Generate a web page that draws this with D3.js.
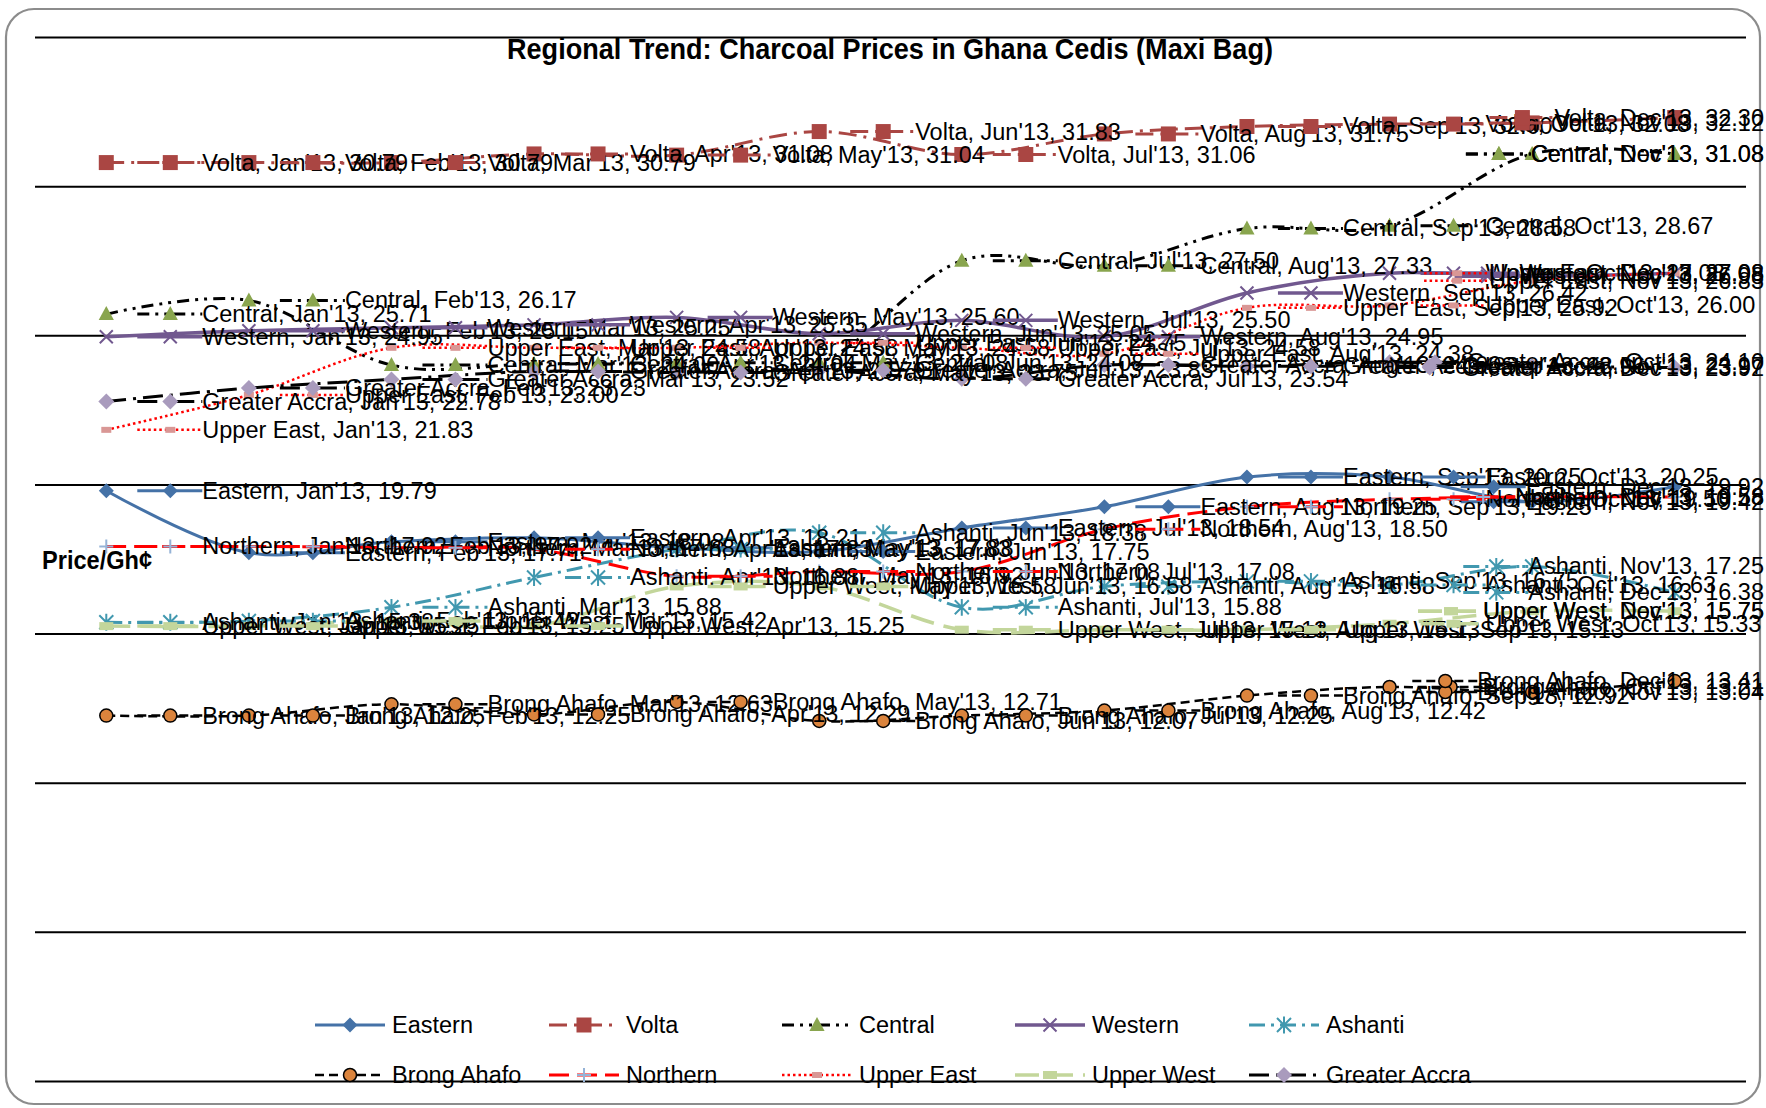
<!DOCTYPE html>
<html>
<head>
<meta charset="utf-8">
<script src="https://cdn.jsdelivr.net/npm/d3@7"></script>
<style>
  body { margin: 0; background: #fff; }
  text { font-family: "Liberation Sans Narrow", "Arial Narrow", "Liberation Sans", sans-serif; }
</style>
</head>
<body>
<svg id="chart" width="1766" height="1108"></svg>
<script>
// ---- data ----
var months = ["Jan'13","Feb'13","Mar'13","Apr'13","May'13","Jun'13","Jul'13","Aug'13","Sep'13","Oct'13","Nov'13","Dec'13"];
var eastern      = [19.79,17.71,18.08,18.21,17.88,17.75,18.54,19.25,20.25,20.25,19.42,19.92];
var volta        = [30.79,30.79,30.79,31.08,31.04,31.83,31.06,31.75,32.00,32.08,32.12,32.30];
var central      = [25.71,26.17,24.00,24.04,24.08,24.08,27.50,27.33,28.58,28.67,31.08,31.08];
var western      = [24.95,25.15,25.25,25.35,25.60,25.05,25.50,24.95,26.42,27.08,26.98,27.08];
var ashanti      = [15.38,15.42,15.88,16.88,17.83,18.38,15.88,16.58,16.75,16.63,17.25,16.38];
var brongAhafo   = [12.25,12.25,12.63,12.29,12.71,12.07,12.25,12.42,12.92,13.21,13.04,13.41];
var northern     = [17.92,17.92,17.88,17.83,16.92,17.08,17.08,18.50,19.25,19.50,19.58,19.58];
var upperEast    = [21.83,23.00,24.58,24.58,24.58,24.75,24.58,24.38,25.92,26.00,26.83,27.08];
var upperWest    = [15.25,15.25,15.42,15.25,16.58,16.58,15.13,15.13,15.13,15.33,15.75,15.75];
var greaterAccra = [22.78,23.23,23.52,23.79,23.75,23.83,23.54,24.00,23.96,24.10,23.97,23.92];
var yTicks = [0,5,10,15,20,25,30,35];

var series = [
  {name:"Eastern",      values:eastern,      line:"#4572A7", width:3,   dash:null,            mk:{shape:"diamond", fill:"#4572A7", r:7.5}},
  {name:"Volta",        values:volta,        line:"#AA4643", width:3,   dash:"18,7,3,7",      mk:{shape:"square", fill:"#AA4643", r:7.5}},
  {name:"Central",      values:central,      line:"#000000", width:3,   dash:"12,6,3,6,3,6",  mk:{shape:"triangle", fill:"#89A54E", r:8}},
  {name:"Western",      values:western,      line:"#71588F", width:3.5, dash:null,            mk:{shape:"times", stroke:"#71588F", r:6.5}},
  {name:"Ashanti",      values:ashanti,      line:"#4198AF", width:3,   dash:"16,6,3,6",      mk:{shape:"asterisk", stroke:"#4198AF", r:7}},
  {name:"Brong Ahafo",  values:brongAhafo,   line:"#000000", width:2.5, dash:"9,5",           mk:{shape:"circle", fill:"#DB843D", stroke:"#000", r:6.5}},
  {name:"Northern",     values:northern,     line:"#FF0000", width:3,   dash:"20,8",          mk:{shape:"plus", stroke:"#95B3D7", r:7}},
  {name:"Upper East",   values:upperEast,    line:"#FF0000", width:2.5, dash:"2.5,3",         mk:{shape:"rect", fill:"#D99795", w:10, h:6}},
  {name:"Upper West",   values:upperWest,    line:"#C3D69B", width:3.5, dash:"24,10",         mk:{shape:"rect", fill:"#C3D69B", w:14, h:8}},
  {name:"Greater Accra",values:greaterAccra, line:"#000000", width:3,   dash:"20,7,3,7",      mk:{shape:"diamond", fill:"#A99BBD", r:8}}
];

var plot = {left:35, right:1746, top:37, bottom:1081};
var svg = d3.select("#chart");

// chart border
svg.append("rect")
  .attr("x", 6).attr("y", 9).attr("width", 1754).attr("height", 1095)
  .attr("rx", 28).attr("ry", 28)
  .attr("fill", "#fff").attr("stroke", "#8c8c8c").attr("stroke-width", 2.2);

var x = d3.scalePoint().domain(months).range([plot.left, plot.right]).padding(0.5);
var y = d3.scaleLinear().domain([0, 35]).range([plot.bottom, plot.top]);

// gridlines, no tick labels
var grid = svg.append("g")
  .attr("transform", "translate(" + plot.left + ",0)")
  .call(d3.axisLeft(y).tickValues(yTicks).tickSize(-(plot.right - plot.left)).tickFormat(""));
grid.select(".domain").remove();
grid.selectAll(".tick line").attr("stroke", "#000").attr("stroke-width", 2);

// title and axis title
svg.append("text")
  .attr("x", 890).attr("y", 59)
  .attr("text-anchor", "middle")
  .attr("textLength", 766).attr("lengthAdjust", "spacingAndGlyphs")
  .style("font-weight", "bold").style("font-size", "30px")
  .text("Regional Trend: Charcoal Prices in Ghana Cedis (Maxi Bag)");

svg.append("text")
  .attr("x", 42).attr("y", 560)
  .attr("dominant-baseline", "central")
  .attr("textLength", 110).attr("lengthAdjust", "spacingAndGlyphs")
  .style("font-weight", "bold").style("font-size", "25px")
  .text("Price/Gh¢");

function markerPath(m) {
  var r = m.r;
  switch (m.shape) {
    case "diamond":  return "M0," + (-r) + "L" + r + ",0L0," + r + "L" + (-r) + ",0Z";
    case "square":   return "M" + (-r) + "," + (-r) + "H" + r + "V" + r + "H" + (-r) + "Z";
    case "triangle": return "M0," + (-r) + "L" + (r * 0.95) + "," + (r * 0.75) + "L" + (-r * 0.95) + "," + (r * 0.75) + "Z";
    case "times":    return "M" + (-r) + "," + (-r) + "L" + r + "," + r + "M" + (-r) + "," + r + "L" + r + "," + (-r);
    case "asterisk": return "M" + (-r) + "," + (-r) + "L" + r + "," + r + "M" + (-r) + "," + r + "L" + r + "," + (-r) + "M0," + (-r * 1.2) + "V" + (r * 1.2);
    case "plus":     return "M" + (-r) + ",0H" + r + "M0," + (-r) + "V" + r;
    case "rect":     return "M" + (-m.w / 2) + "," + (-m.h / 2) + "h" + m.w + "v" + m.h + "h" + (-m.w) + "Z";
  }
}

function drawMarker(g, s, cx, cy) {
  var m = s.mk;
  if (m.shape === "circle") {
    g.append("circle").attr("cx", cx).attr("cy", cy).attr("r", m.r)
      .attr("fill", m.fill).attr("stroke", m.stroke).attr("stroke-width", 1.5);
  } else {
    g.append("path")
      .attr("transform", "translate(" + cx + "," + cy + ")")
      .attr("d", markerPath(m))
      .attr("fill", m.fill || "none")
      .attr("stroke", m.stroke || "none")
      .attr("stroke-width", m.stroke ? 2 : 0);
  }
}

function styleLine(sel, s) {
  sel.attr("fill", "none")
    .attr("stroke", s.line)
    .attr("stroke-width", s.width)
    .attr("stroke-dasharray", s.dash);
}

var line = d3.line()
  .x(function(d, i) { return x(months[i]); })
  .y(function(d) { return y(d); })
  .curve(d3.curveCardinal.tension(0));

// lines and markers
series.forEach(function(s) {
  var g = svg.append("g").attr("class", "series");
  g.append("path").datum(s.values).attr("d", line).call(styleLine, s);
  s.values.forEach(function(v, i) { drawMarker(g, s, x(months[i]), y(v)); });
});

// data labels with legend key, to the right of each point (pulled back at the right edge)
var rightLimit = 1764;
var labels = svg.append("g").attr("class", "labels");
series.forEach(function(s) {
  s.values.forEach(function(v, i) {
    var px = x(months[i]), py = y(v);
    var g = labels.append("g");
    g.append("line").attr("x1", 31).attr("x2", 96).attr("y1", 0).attr("y2", 0).call(styleLine, s);
    drawMarker(g, s, 64, 0);
    var t = g.append("text")
      .attr("x", 96).attr("y", 0)
      .attr("dominant-baseline", "central")
      .style("font-size", "23.5px")
      .text(s.name + ", " + months[i] + ", " + v.toFixed(2));
    var end = px + 96 + t.node().getComputedTextLength();
    var shift = end > rightLimit ? rightLimit - end : 0;
    g.attr("transform", "translate(" + (px + shift) + "," + py + ")");
  });
});

// legend
var legX = [315, 549, 782, 1015, 1249];
var legY = [1025, 1075];
var legend = svg.append("g").attr("class", "legend");
series.forEach(function(s, i) {
  var lx = legX[i % 5], ly = legY[Math.floor(i / 5)];
  var g = legend.append("g").attr("transform", "translate(" + lx + "," + ly + ")");
  g.append("line").attr("x1", 0).attr("x2", 70).attr("y1", 0).attr("y2", 0).call(styleLine, s);
  drawMarker(g, s, 35, 0);
  g.append("text").attr("x", 77).attr("y", 0)
    .attr("dominant-baseline", "central")
    .style("font-size", "23.5px")
    .text(s.name);
});
</script>
</body>
</html>
